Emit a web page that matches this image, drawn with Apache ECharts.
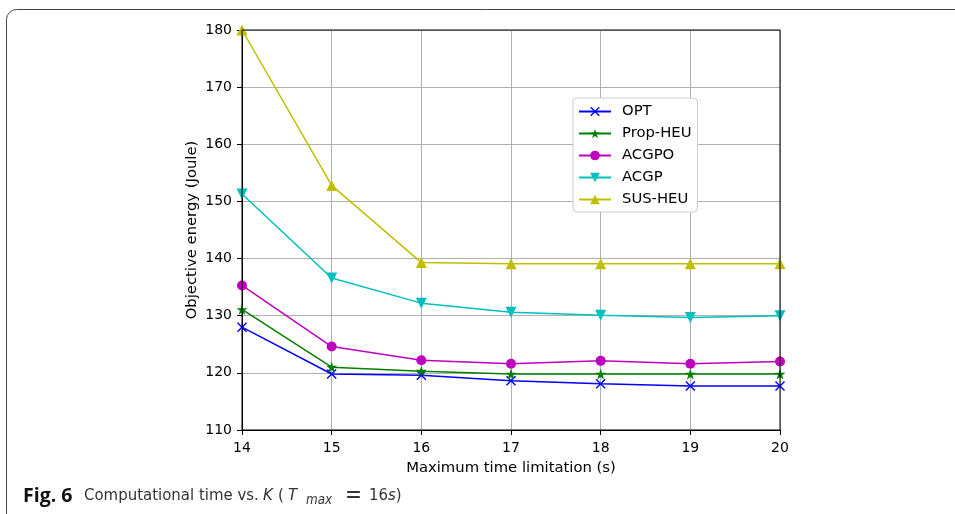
<!DOCTYPE html>
<html>
<head>
<meta charset="utf-8">
<script src="https://cdn.jsdelivr.net/npm/echarts@6/dist/echarts.min.js"></script>
<style>
html,body{margin:0;padding:0;background:#fff;overflow:hidden;}
#chart{width:955px;height:514px;}
</style>
</head>
<body>
<div id="chart"></div>
<script>
// ---- data ----
const xValues = [14, 15, 16, 17, 18, 19, 20];
const seriesNames = ['OPT', 'Prop-HEU', 'ACGPO', 'ACGP', 'SUS-HEU'];
const optValues    = [128.0, 119.8, 119.6, 118.6, 118.1, 117.7, 117.7];
const propHeuValues = [131.1, 121.0, 120.3, 119.8, 119.8, 119.8, 119.8];
const acgpoValues  = [135.3, 124.6, 122.2, 121.6, 122.1, 121.6, 122.0];
const acgpValues   = [151.3, 136.6, 132.2, 130.6, 130.1, 129.7, 130.0];
const susHeuValues = [180.0, 152.8, 139.3, 139.1, 139.1, 139.1, 139.1];
const yTicks = [110, 120, 130, 140, 150, 160, 170, 180];

// ---- styling ----
const FONT = 'DejaVu Sans';
const xPath = 'path://M0,1L1,0L5,4L9,0L10,1L6,5L10,9L9,10L5,6L1,10L0,9L4,5Z';
const starPath = 'path://M50,0L61.17,34.63L97.55,34.55L68.07,55.87L79.39,90.45L50,69L20.61,90.45L31.93,55.87L2.45,34.55L38.83,34.63Z';
const styles = [
  {color: '#0000ff', symbol: xPath, size: 10, rotate: 0},
  {color: '#008000', symbol: starPath, size: 11, rotate: 0},
  {color: '#bf00bf', symbol: 'circle', size: 10, rotate: 0},
  {color: '#00bfbf', symbol: 'triangle', size: 11, rotate: 180},
  {color: '#bfbf00', symbol: 'triangle', size: 11, rotate: 0}
];
const allValues = [optValues, propHeuValues, acgpoValues, acgpValues, susHeuValues];

// caption font choice (condensed look if available)
function fontAvailable(name) {
  const c = document.createElement('canvas').getContext('2d');
  const t = 'Computational time vs.';
  c.font = '20px monospace';
  const w0 = c.measureText(t).width;
  c.font = '20px "' + name + '", monospace';
  return Math.abs(c.measureText(t).width - w0) > 0.5;
}
const capCandidates = ['Liberation Sans Narrow', 'DejaVu Sans Condensed', 'Roboto Condensed', 'Roboto', 'Open Sans'];
let capFamily = 'Open Sans';
for (const f of capCandidates) { if (fontAvailable(f)) { capFamily = f; break; } }
let capSize = 20;
(function () {
  const c = document.createElement('canvas').getContext('2d');
  c.font = '20px "' + capFamily + '"';
  const w = c.measureText('Computational time vs.').width;
  capSize = Math.min(20, 20 * 175 / w);
})();

const series = seriesNames.map((name, i) => ({
  name: name,
  type: 'line',
  data: xValues.map((x, j) => [x, allValues[i][j]]),
  symbol: styles[i].symbol,
  symbolSize: styles[i].size,
  symbolRotate: styles[i].rotate,
  showAllSymbol: true,
  lineStyle: {color: styles[i].color, width: 1.5},
  itemStyle: {color: styles[i].color, borderWidth: 0},
  emphasis: {disabled: true},
  animation: false,
  z: 3 + i
}));

const CAP_Y = 496;
function capText(x, text, opts) {
  return {type: 'text', x: x, y: CAP_Y, silent: true, z: 20,
    style: Object.assign({text: text, fontFamily: capFamily, fontSize: capSize, fill: '#333', verticalAlign: 'middle', align: 'left'}, opts || {})};
}
const frameStyle = {fill: null, stroke: '#444', lineWidth: 1};

const chart = echarts.init(document.getElementById('chart'), null, {renderer: 'canvas'});
chart.setOption({
  animation: false,
  backgroundColor: '#fff',
  grid: {left: 242, right: 175, top: 30, bottom: 84, show: true, borderColor: '#000', borderWidth: 1, backgroundColor: 'transparent', z: 10},
  xAxis: {
    type: 'value', min: 14, max: 20, interval: 1,
    name: 'Maximum time limitation (s)', nameLocation: 'middle', nameGap: 31, nameMoveOverlap: false,
    nameTextStyle: {fontFamily: FONT, fontSize: 14.8, color: '#000'},
    axisLine: {show: true, lineStyle: {color: '#000', width: 1}},
    axisTick: {show: true, length: 5, lineStyle: {color: '#000'}},
    axisLabel: {fontFamily: FONT, fontSize: 14, color: '#000', margin: 11},
    splitLine: {show: true, lineStyle: {color: '#b0b0b0', width: 1}}
  },
  yAxis: {
    type: 'value', min: yTicks[0], max: yTicks[yTicks.length - 1], interval: 10,
    name: 'Objective energy (Joule)', nameLocation: 'middle', nameGap: 42, nameMoveOverlap: false,
    nameTextStyle: {fontFamily: FONT, fontSize: 14.8, color: '#000'},
    axisLine: {show: true, lineStyle: {color: '#000', width: 1}},
    axisTick: {show: true, length: 5, lineStyle: {color: '#000'}},
    axisLabel: {fontFamily: FONT, fontSize: 14, color: '#000', margin: 10},
    splitLine: {show: true, lineStyle: {color: '#b0b0b0', width: 1}}
  },
  legend: {
    orient: 'vertical', left: 573, top: 98,
    data: seriesNames,
    itemWidth: 32, itemHeight: 12, itemGap: 7,
    padding: [6, 6, 5, 5],
    backgroundColor: '#fff', borderColor: '#cccccc', borderWidth: 1, borderRadius: 4,
    textStyle: {fontFamily: FONT, fontSize: 14.8, color: '#000', padding: [0, 0, 0, 6]}
  },
  graphic: [
    {type: 'polyline', silent: true, z: 0,
      shape: {points: [[6.5, 540], [6.5, 19.5]]}, style: frameStyle},
    {type: 'polyline', silent: true, z: 0,
      shape: {points: [[16.5, 9.5], [1200, 9.5]]}, style: frameStyle},
    {type: 'arc', silent: true, z: 0,
      shape: {cx: 16.5, cy: 19.5, r: 10, startAngle: Math.PI, endAngle: Math.PI * 1.5, clockwise: true}, style: frameStyle},
    capText(23, 'Fig. 6', {fontFamily: 'Open Sans', fontWeight: 'bold', fontSize: 19.5, fill: '#111'}),
    capText(84, 'Computational time vs.'),
    capText(263, 'K', {fontStyle: 'italic'}),
    capText(278, '('),
    capText(288, 'T', {fontStyle: 'italic'}),
    {type: 'text', x: 306, y: CAP_Y + 5, silent: true, z: 20,
      style: {text: 'max', fontFamily: capFamily, fontStyle: 'italic', fontSize: capSize * 0.8, fill: '#333', verticalAlign: 'middle'}},
    capText(345, '=', {fontSize: capSize * 1.35}),
    {type: 'text', x: 369, y: CAP_Y, silent: true, z: 20,
      style: {text: '{n|16}{i|s}{n|)}', verticalAlign: 'middle',
        rich: {
          n: {fontFamily: capFamily, fontSize: capSize, fill: '#333'},
          i: {fontFamily: capFamily, fontSize: capSize, fontStyle: 'italic', fill: '#333'}
        }}}
  ],
  series: series
});
</script>
</body>
</html>
